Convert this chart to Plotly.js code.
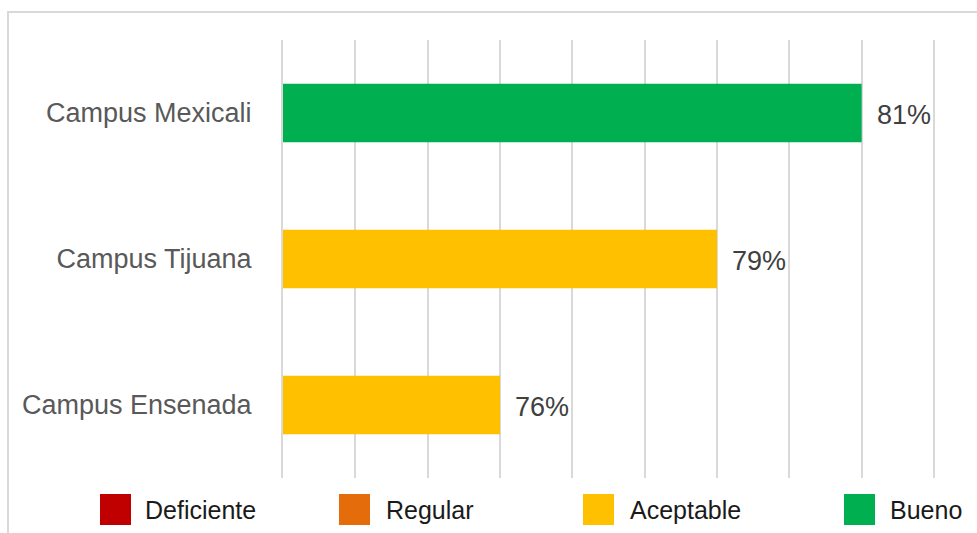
<!DOCTYPE html>
<html>
<head>
<meta charset="utf-8">
<script src="https://cdn.plot.ly/plotly-3.0.1.min.js"></script>
<style>
  html, body { margin: 0; padding: 0; background: #ffffff; }
  #chart { width: 977px; height: 533px; }
</style>
</head>
<body>
<div id="chart"></div>
<script>
// Campus scores and their rating level
const campuses = ['Campus Mexicali', 'Campus Tijuana', 'Campus Ensenada'];
const scores = [81, 79, 76];
const ratings = ['Bueno', 'Aceptable', 'Aceptable'];

// Rating scale shown in the key
const levels = ['Deficiente', 'Regular', 'Aceptable', 'Bueno'];
const levelColors = ['#C00000', '#E46C0A', '#FFC000', '#00B050'];

const W = 977, H = 533;
const M = { l: 283, r: 0, t: 40, b: 55 };
const plotW = W - M.l - M.r;
const plotH = H - M.t - M.b;
const px2x = px => (px - M.l) / plotW;
const px2y = py => (H - M.b - py) / plotH;

const colorOf = r => levelColors[levels.indexOf(r)];

const trace = {
  type: 'bar',
  orientation: 'h',
  x: scores,
  y: campuses,
  width: 0.4,
  marker: { color: ratings.map(colorOf), line: { width: 0 } },
  hoverinfo: 'skip',
  showlegend: false
};

// Value labels beside each bar
const valueNotes = scores.map((v, i) => ({
  x: v, y: campuses[i], xref: 'x', yref: 'y',
  text: v + '%', showarrow: false,
  xanchor: 'left', yanchor: 'middle', xshift: 13, yshift: -2,
  font: { family: 'Liberation Sans, Arial, sans-serif', size: 27, color: '#404040' }
}));

// Key along the bottom
const keySquareLeft = [100, 339, 583, 844];
const keyTextLeft = [145, 386, 630, 890];
const keyTop = 494, keySize = 31, keyMid = 509.5;

const keyShapes = levels.map((lv, i) => ({
  type: 'rect', xref: 'paper', yref: 'paper',
  x0: px2x(keySquareLeft[i]), x1: px2x(keySquareLeft[i] + keySize),
  y0: px2y(keyTop + keySize), y1: px2y(keyTop),
  fillcolor: levelColors[i], line: { width: 0 }, layer: 'above'
}));

const keyNotes = levels.map((lv, i) => ({
  x: px2x(keyTextLeft[i] - 2), y: px2y(keyMid), xref: 'paper', yref: 'paper',
  text: lv, showarrow: false, xanchor: 'left', yanchor: 'middle',
  font: { family: 'Liberation Sans, Arial, sans-serif', size: 25, color: '#1a1a1a' }
}));

// Light frame around the chart
const frame = {
  type: 'rect', xref: 'paper', yref: 'paper',
  x0: px2x(8), x1: px2x(W + 20), y0: px2y(H + 20), y1: px2y(12),
  line: { color: '#d9d9d9', width: 2 }, fillcolor: 'rgba(0,0,0,0)', layer: 'below'
};

const layout = {
  width: W, height: H,
  margin: M,
  paper_bgcolor: '#ffffff',
  plot_bgcolor: '#ffffff',
  showlegend: false,
  font: { family: 'Liberation Sans, Arial, sans-serif' },
  xaxis: {
    range: [73, 73 + plotW / ((934 - 283) / 9)],
    tick0: 73, dtick: 1,
    showgrid: true, gridcolor: '#d9d9d9', gridwidth: 2,
    showticklabels: false, zeroline: false, showline: false, ticks: '',
    fixedrange: true
  },
  yaxis: {
    type: 'category',
    categoryorder: 'array', categoryarray: campuses,
    range: [2.5, -0.5],
    showgrid: false, zeroline: false, ticks: '',
    showline: true, linecolor: '#d9d9d9', linewidth: 2,
    ticklabelstandoff: 24,
    tickfont: { family: 'Liberation Sans, Arial, sans-serif', size: 27, color: '#595959' },
    fixedrange: true
  },
  shapes: [frame].concat(keyShapes),
  annotations: valueNotes.concat(keyNotes)
};

Plotly.newPlot('chart', [trace], layout, { displayModeBar: false, staticPlot: true });
</script>
</body>
</html>
